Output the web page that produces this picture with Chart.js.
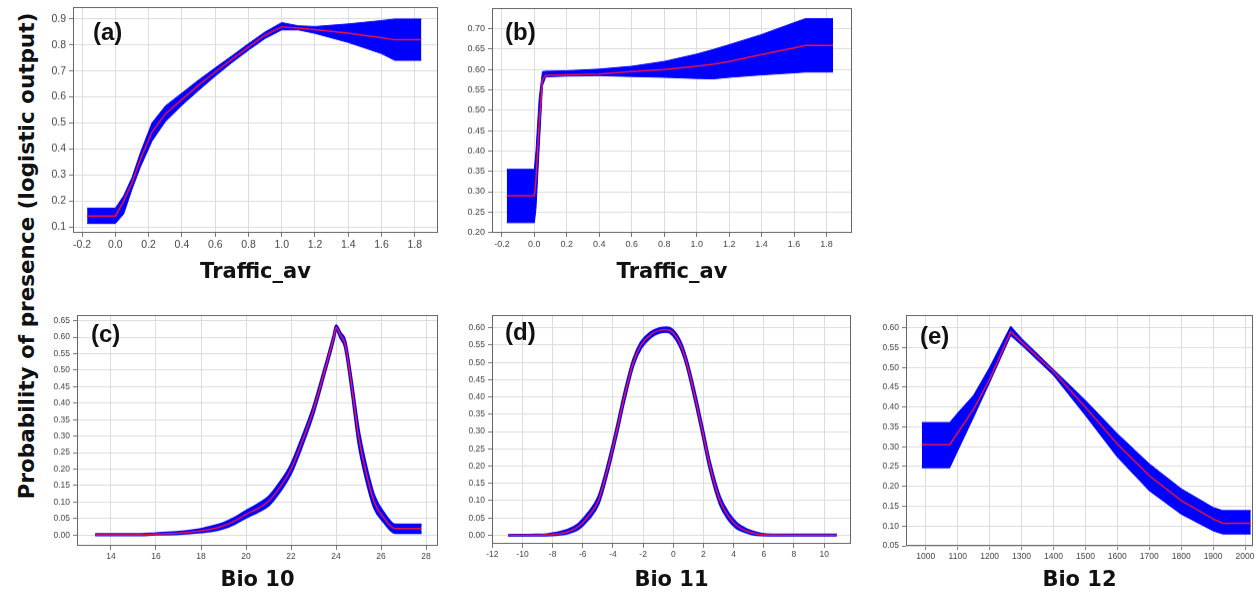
<!DOCTYPE html>
<html><head><meta charset="utf-8">
<script src="https://cdn.jsdelivr.net/npm/chart.js@4.4.1/dist/chart.umd.min.js"></script>
<style>
html,body{margin:0;padding:0;background:#fff;width:1256px;height:596px;overflow:hidden;position:relative;font-family:"Liberation Sans",Arial,sans-serif;}
.panel{position:absolute;}
.lbl{position:absolute;font-weight:bold;font-size:24px;line-height:24px;color:#111;white-space:nowrap;}
#ytitle{position:absolute;left:-223px;top:243px;width:500px;height:26px;line-height:26px;text-align:center;font-family:"DejaVu Sans",sans-serif;font-weight:bold;font-size:21.5px;color:#111;transform:rotate(-90deg);transform-origin:50% 50%;white-space:nowrap;}
</style></head><body>
<div id="ytitle">Probability of presence (logistic output)</div>
<script>
// ---------- DATA ----------
// (a) Traffic_av, logistic
const xsA    = [-0.17, 0.0, 0.05, 0.1, 0.15, 0.22, 0.3, 0.4, 0.5, 0.6, 0.7, 0.8, 0.9, 1.0, 1.1, 1.2, 1.4, 1.6, 1.68, 1.84];
const meanA  = [0.142, 0.142, 0.20, 0.27, 0.36, 0.465, 0.535, 0.59, 0.645, 0.696, 0.745, 0.792, 0.838, 0.87, 0.865, 0.859, 0.846, 0.828, 0.82, 0.82];
const upperA = [0.172, 0.172, 0.22, 0.29, 0.385, 0.50, 0.565, 0.615, 0.665, 0.712, 0.758, 0.805, 0.85, 0.886, 0.874, 0.871, 0.881, 0.894, 0.90, 0.90];
const lowerA = [0.113, 0.113, 0.15, 0.245, 0.33, 0.43, 0.505, 0.568, 0.625, 0.68, 0.732, 0.78, 0.825, 0.858, 0.858, 0.845, 0.81, 0.767, 0.741, 0.741];

// (b) Traffic_av
const xsB    = [-0.17, 0.0, 0.01, 0.03, 0.05, 0.07, 0.2, 0.4, 0.6, 0.8, 1.0, 1.1, 1.2, 1.4, 1.6, 1.67, 1.84];
const meanB  = [0.290, 0.290, 0.33, 0.47, 0.575, 0.586, 0.587, 0.589, 0.595, 0.600, 0.608, 0.613, 0.620, 0.637, 0.653, 0.659, 0.659];
const upperB = [0.355, 0.355, 0.40, 0.53, 0.595, 0.596, 0.597, 0.601, 0.608, 0.620, 0.638, 0.649, 0.661, 0.686, 0.715, 0.725, 0.725];
const lowerB = [0.224, 0.224, 0.26, 0.41, 0.56, 0.582, 0.584, 0.585, 0.583, 0.581, 0.578, 0.577, 0.581, 0.587, 0.592, 0.594, 0.594];

// (c) Bio 10
const xsC    = [13.3, 15, 16, 17, 18, 18.5, 19, 19.5, 20, 20.5, 21, 21.5, 22, 22.5, 23, 23.5, 23.9, 24.0, 24.2, 24.4, 24.7, 25.0, 25.3, 25.7, 26.15, 26.62, 27.8];
const meanC  = [0.001, 0.001, 0.003, 0.006, 0.013, 0.019, 0.028, 0.043, 0.063, 0.08, 0.103, 0.145, 0.20, 0.285, 0.38, 0.50, 0.60, 0.63, 0.605, 0.58, 0.45, 0.30, 0.20, 0.10, 0.05, 0.02, 0.02];
const upperC = [0.002, 0.002, 0.005, 0.009, 0.018, 0.026, 0.036, 0.052, 0.073, 0.092, 0.115, 0.158, 0.213, 0.297, 0.39, 0.508, 0.607, 0.635, 0.612, 0.59, 0.465, 0.32, 0.22, 0.118, 0.064, 0.031, 0.031];
const lowerC = [0.0, 0.0, 0.002, 0.004, 0.009, 0.013, 0.021, 0.035, 0.054, 0.07, 0.09, 0.132, 0.188, 0.273, 0.37, 0.492, 0.593, 0.624, 0.598, 0.57, 0.435, 0.28, 0.18, 0.083, 0.038, 0.007, 0.007];

// (d) Bio 11
const xsD    = [-10.94, -9, -8.4, -7.8, -7, -6.3, -5.64, -4.97, -4.31, -3.76, -3.25, -2.65, -2.14, -1.5, -0.9, -0.44, 0, 0.49, 0.88, 1.44, 1.94, 2.43, 3.09, 3.65, 4.2, 4.86, 5.5, 6.2, 8, 10.83];
const meanD  = [0, 0, 0.001, 0.003, 0.01, 0.025, 0.055, 0.10, 0.20, 0.30, 0.40, 0.50, 0.55, 0.58, 0.593, 0.595, 0.585, 0.55, 0.50, 0.40, 0.30, 0.20, 0.10, 0.055, 0.028, 0.012, 0.004, 0.001, 0, 0];
const upperD = [0, 0.001, 0.002, 0.006, 0.015, 0.032, 0.064, 0.11, 0.21, 0.31, 0.41, 0.508, 0.558, 0.587, 0.599, 0.601, 0.592, 0.558, 0.508, 0.41, 0.31, 0.21, 0.11, 0.064, 0.035, 0.017, 0.007, 0.002, 0.001, 0.001];
const lowerD = [0, 0, 0, 0.001, 0.006, 0.018, 0.046, 0.09, 0.19, 0.29, 0.39, 0.492, 0.542, 0.573, 0.587, 0.589, 0.578, 0.542, 0.492, 0.39, 0.29, 0.19, 0.09, 0.046, 0.021, 0.008, 0.001, 0, 0, 0];

// (e) Bio 12
const xsE    = [987.5, 1075, 1100, 1150, 1200, 1266, 1300, 1400, 1500, 1600, 1700, 1800, 1900, 1930, 2018];
const meanE  = [0.305, 0.305, 0.335, 0.395, 0.47, 0.59, 0.564, 0.489, 0.40, 0.307, 0.227, 0.164, 0.118, 0.107, 0.107];
const upperE = [0.361, 0.361, 0.385, 0.43, 0.50, 0.604, 0.573, 0.495, 0.417, 0.333, 0.257, 0.194, 0.147, 0.139, 0.139];
const lowerE = [0.247, 0.247, 0.29, 0.375, 0.462, 0.58, 0.556, 0.48, 0.379, 0.274, 0.189, 0.13, 0.088, 0.08, 0.08];

// tick labels
const xTicksAB = ['-0.2','0.0','0.2','0.4','0.6','0.8','1.0','1.2','1.4','1.6','1.8'];
const yTicksA  = ['0.1','0.2','0.3','0.4','0.5','0.6','0.7','0.8','0.9'];
const yTicksB  = ['0.20','0.25','0.30','0.35','0.40','0.45','0.50','0.55','0.60','0.65','0.70'];
const xTicksC  = ['14','16','18','20','22','24','26','28'];
const yTicksC  = ['0.00','0.05','0.10','0.15','0.20','0.25','0.30','0.35','0.40','0.45','0.50','0.55','0.60','0.65'];
const xTicksD  = ['-12','-10','-8','-6','-4','-2','0','2','4','6','8','10'];
const yTicksD  = ['0.00','0.05','0.10','0.15','0.20','0.25','0.30','0.35','0.40','0.45','0.50','0.55','0.60'];
const xTicksE  = ['1000','1100','1200','1300','1400','1500','1600','1700','1800','1900','2000'];
const yTicksE  = ['0.05','0.10','0.15','0.20','0.25','0.30','0.35','0.40','0.45','0.50','0.55','0.60'];

const panelLabels = ['(a)','(b)','(c)','(d)','(e)'];
const xTitles = ['Traffic_av','Traffic_av','Bio 10','Bio 11','Bio 12'];

// ---------- RENDER ----------
const BLUE = '#0000ff', RED = '#f0143c';
const pts = (xs, ys) => xs.map((x, i) => ({x: x, y: ys[i]}));

const framePlugin = {
  id: 'frame',
  afterDatasetsDraw(chart) {
    const a = chart.chartArea, c = chart.ctx;
    c.save();
    c.strokeStyle = '#666'; c.lineWidth = 1;
    c.strokeRect(Math.round(a.left) + 0.5, Math.round(a.top) + 0.5, Math.round(a.right - a.left) - 1, Math.round(a.bottom - a.top) - 1);
    c.restore();
  }
};

function makePanel(box, series, xLabels, yLabels, ranges, title, label, smooth, bw, fs) {
  const yw = 45, padT = 10, padR = 6, lh = 25;
  const left = box.L - yw, top = box.T - padT;
  const width = box.R + padR - left, height = box.titleY + lh / 2 - top;
  const div = document.createElement('div');
  div.className = 'panel';
  div.style.cssText = `left:${left}px;top:${top}px;width:${width}px;height:${height}px;`;
  const cv = document.createElement('canvas');
  div.appendChild(cv);
  document.body.appendChild(div);

  const lbl = document.createElement('div');
  lbl.className = 'lbl';
  lbl.textContent = label;
  lbl.style.left = box.labX + 'px';
  lbl.style.top = box.labY + 'px';
  document.body.appendChild(lbl);

  const interp = smooth ? {cubicInterpolationMode: 'monotone'} : {tension: 0};
  const tickFont = {family: 'Liberation Sans, Arial, sans-serif', size: fs};
  const mkScale = (labels, rng, isX) => ({
    type: 'linear', min: rng[0], max: rng[1],
    afterBuildTicks: s => { s.ticks = labels.map(l => ({value: parseFloat(l)})); },
    afterFit: s => { if (isX) s.height = box.titleY + lh / 2 - box.B; else s.width = yw; },
    grid: {color: '#dcdcdc', lineWidth: 1, tickLength: 4, tickColor: '#777', drawTicks: true},
    border: {display: false},
    ticks: {autoSkip: false, maxRotation: 0, minRotation: 0, padding: isX ? 2 : 3, color: '#444', font: tickFont,
            callback: (v, i) => labels[i]},
    title: isX ? {display: true, text: title, color: '#111', padding: 0,
                  font: {family: 'DejaVu Sans, sans-serif', size: 21, weight: 'bold', lineHeight: lh / 21}} : {display: false}
  });

  new Chart(cv, {
    type: 'line',
    data: {
      datasets: [
        Object.assign({data: pts(series.xs, series.mean), borderColor: RED, borderWidth: 1.5, pointRadius: 0, fill: false}, interp),
        Object.assign({data: pts(series.xs, series.upper), borderColor: BLUE, backgroundColor: BLUE, borderWidth: bw, pointRadius: 0, fill: '+1'}, interp),
        Object.assign({data: pts(series.xs, series.lower), borderColor: BLUE, borderWidth: bw, pointRadius: 0, fill: false}, interp)
      ]
    },
    options: {
      responsive: true, maintainAspectRatio: false, animation: false,
      layout: {padding: {top: padT, right: padR, left: 0, bottom: 0}},
      plugins: {legend: {display: false}, tooltip: {enabled: false}},
      scales: {x: mkScale(xLabels, ranges.x, true), y: mkScale(yLabels, ranges.y, false)}
    },
    plugins: [framePlugin]
  });
}

makePanel({L: 73, R: 438, T: 7, B: 232, titleY: 272, labX: 93, labY: 20},
  {xs: xsA, mean: meanA, upper: upperA, lower: lowerA}, xTicksAB, yTicksA,
  {x: [-0.255, 1.94], y: [0.077, 0.946]}, xTitles[0], panelLabels[0], false, 1, 10.5);
makePanel({L: 492, R: 852, T: 8, B: 232, titleY: 272, labX: 505, labY: 20},
  {xs: xsB, mean: meanB, upper: upperB, lower: lowerB}, xTicksAB, yTicksB,
  {x: [-0.261, 1.957], y: [0.199, 0.751]}, xTitles[1], panelLabels[1], false, 1, 9);
makePanel({L: 77, R: 438, T: 315, B: 545, titleY: 580, labX: 91, labY: 322},
  {xs: xsC, mean: meanC, upper: upperC, lower: lowerC}, xTicksC, yTicksC,
  {x: [12.49, 28.53], y: [-0.0326, 0.667]}, xTitles[2], panelLabels[2], true, 2.5, 8.5);
makePanel({L: 492, R: 851, T: 315, B: 543, titleY: 580, labX: 505, labY: 320},
  {xs: xsD, mean: meanD, upper: upperD, lower: lowerD}, xTicksD, yTicksD,
  {x: [-12.02, 11.78], y: [-0.025, 0.637]}, xTitles[3], panelLabels[3], true, 2.5, 8.5);
makePanel({L: 906, R: 1253, T: 315, B: 545, titleY: 580, labX: 920, labY: 324},
  {xs: xsE, mean: meanE, upper: upperE, lower: lowerE}, xTicksE, yTicksE,
  {x: [938, 2025], y: [0.05, 0.632]}, xTitles[4], panelLabels[4], false, 1, 8.5);
</script>
</body></html>
